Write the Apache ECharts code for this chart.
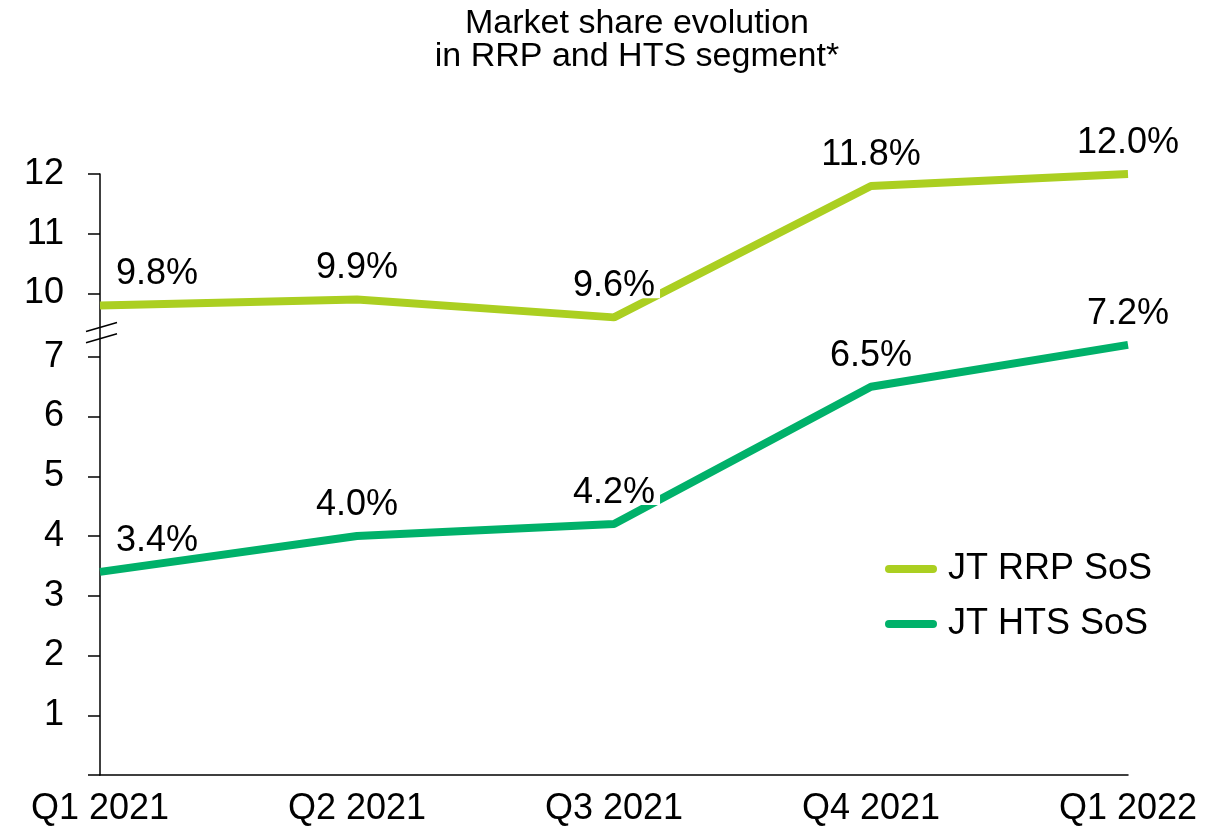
<!DOCTYPE html>
<html>
<head>
<meta charset="utf-8">
<style>
  html, body { margin: 0; padding: 0; background: #fff; }
  #chart { width: 1225px; height: 828px; }
</style>
<script src="https://cdn.jsdelivr.net/npm/echarts@6/dist/echarts.min.js"></script>
</head>
<body>
<div id="chart"></div>
<script>
const categories = ['Q1 2021', 'Q2 2021', 'Q3 2021', 'Q4 2021', 'Q1 2022'];
const rrpValues = [9.8, 9.9, 9.6, 11.8, 12.0];
const htsValues = [3.4, 4.0, 4.2, 6.5, 7.2];
const lowerTicks = [1, 2, 3, 4, 5, 6, 7];
const upperTicks = [10, 11, 12];
const seriesNames = ['JT RRP SoS', 'JT HTS SoS'];
const breakOffset = 1.94; // axis break: upper segment shifted down by this amount
const upperMax = 12;

const FONT = 'Liberation Sans, Arial, sans-serif';
const RRP_COLOR = '#ABCF21';
const HTS_COLOR = '#00B16A';

function labeled(values) {
  return values.map((v, i) => i === 0 ? { value: v, label: { offset: [57, 0] } } : v);
}

const labelStyle = {
  show: true,
  position: 'top',
  distance: 19,
  fontSize: 36,
  lineHeight: 24,
  fontFamily: FONT,
  color: '#000',
  backgroundColor: '#fff',
  padding: [0, 5, 0, 5],
  formatter: p => p.value.toFixed(1) + '%'
};

const chart = echarts.init(document.getElementById('chart'), null, { renderer: 'canvas' });
const capsule = 'path://M4,0 H48 A4,4 0 0 1 48,8 H4 A4,4 0 0 1 4,0 Z';

const option = {
  animation: false,
  backgroundColor: '#fff',
  title: {
    text: 'Market share evolution\nin RRP and HTS segment*',
    left: 632,
    top: 2,
    textAlign: 'center',
    textStyle: { fontSize: 34, fontWeight: 'normal', color: '#000', fontFamily: FONT, lineHeight: 33 }
  },
  legend: {
    orient: 'vertical',
    left: 880,
    top: 546,
    itemWidth: 52,
    itemHeight: 8,
    itemGap: 19,
    data: seriesNames.map(n => ({ name: n, icon: capsule })),
    textStyle: { fontSize: 36, color: '#000', fontFamily: FONT, padding: [0, 0, 0, 6] }
  },
  grid: { left: 100, right: 97, top: 174, bottom: 53, containLabel: false },
  xAxis: {
    type: 'category',
    data: categories,
    boundaryGap: false,
    axisLine: { lineStyle: { color: '#000', width: 1.5 } },
    axisTick: { show: false },
    axisLabel: { fontSize: 36, color: '#000', fontFamily: FONT, margin: 16, interval: 0 },
    splitLine: { show: false }
  },
  yAxis: [
    {
      type: 'value',
      position: 'left',
      min: 0,
      max: upperMax - breakOffset,
      axisLine: { show: true, lineStyle: { color: '#000', width: 1.5 } },
      axisTick: { show: true, length: 12, customValues: [0].concat(lowerTicks), lineStyle: { color: '#000', width: 1.5 } },
      axisLabel: { fontSize: 36, color: '#000', fontFamily: FONT, margin: 36, customValues: lowerTicks },
      splitLine: { show: false }
    },
    {
      type: 'value',
      position: 'left',
      min: breakOffset,
      max: upperMax,
      axisLine: { show: false },
      axisTick: { show: true, length: 12, customValues: upperTicks, lineStyle: { color: '#000', width: 1.5 } },
      axisLabel: { fontSize: 36, color: '#000', fontFamily: FONT, margin: 36, customValues: upperTicks },
      splitLine: { show: false }
    }
  ],
  series: [
    {
      name: seriesNames[0],
      type: 'line',
      yAxisIndex: 1,
      data: labeled(rrpValues),
      symbol: 'circle',
      symbolSize: 0.1,
      showSymbol: true,
      lineStyle: { color: RRP_COLOR, width: 8 },
      itemStyle: { color: RRP_COLOR },
      label: labelStyle,
      z: 3
    },
    {
      name: seriesNames[1],
      type: 'line',
      yAxisIndex: 0,
      data: labeled(htsValues),
      symbol: 'circle',
      symbolSize: 0.1,
      showSymbol: true,
      lineStyle: { color: HTS_COLOR, width: 8 },
      itemStyle: { color: HTS_COLOR },
      label: labelStyle,
      z: 3
    }
  ]
};

chart.setOption(option);

// break marks on the y axis, placed through the axis scale
const ax = chart.convertToPixel({ xAxisIndex: 0 }, 0);
const b1 = chart.convertToPixel({ yAxisIndex: 0 }, 7.5);
const b2 = chart.convertToPixel({ yAxisIndex: 0 }, 7.31);
function slash(cy) {
  return {
    type: 'line',
    shape: { x1: ax - 14, y1: cy + 4.5, x2: ax + 17, y2: cy - 4.5 },
    style: { stroke: '#000', lineWidth: 1.5 },
    z: 10
  };
}
chart.setOption({ graphic: [slash(b1), slash(b2)] });
</script>
</body>
</html>
